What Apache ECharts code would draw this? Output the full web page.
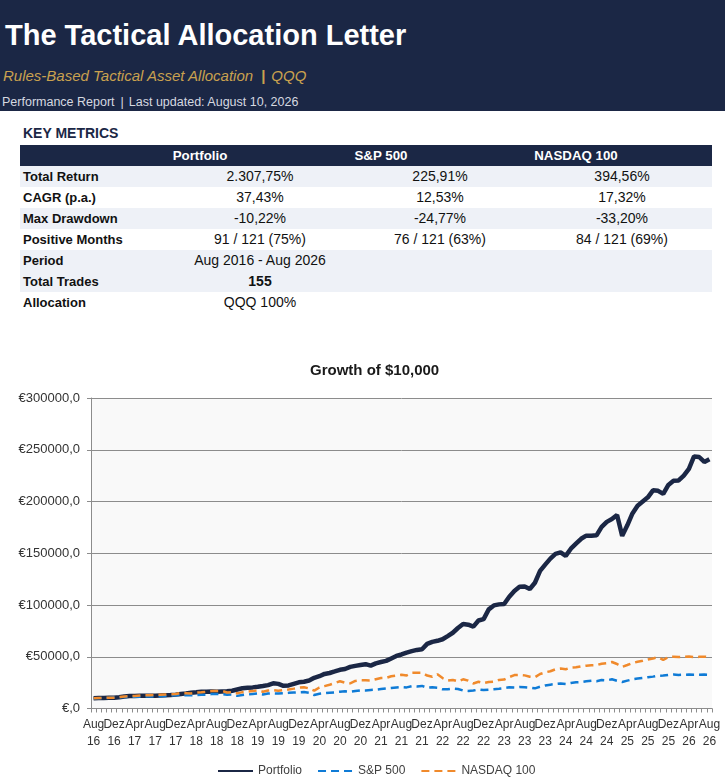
<!DOCTYPE html>
<html><head><meta charset="utf-8">
<script src="https://cdn.jsdelivr.net/npm/echarts@6/dist/echarts.min.js"></script>
<style>
html,body{margin:0;padding:0;background:#fff;width:725px;height:784px;overflow:hidden;font-family:"Liberation Sans",Arial,sans-serif;}
#hdr{position:absolute;left:0;top:0;width:725px;height:111px;background:#1b2745;}
.a{position:absolute;white-space:nowrap;}
#chart{position:absolute;left:0;top:340px;width:725px;height:444px;}
</style></head><body>
<div id="hdr"></div>
<div id="page"></div>
<div id="chart"></div>
<script>
// ---- data ----
const monthNames = ['Jan','Feb','Mär','Apr','Mai','Jun','Jul','Aug','Sep','Okt','Nov','Dez'];
const startYear = 2016, startMonth = 7, monthCount = 121;
const categories = [];
for (let i = 0; i < monthCount; i++) {
  const m = (startMonth + i) % 12, y = startYear + Math.floor((startMonth + i) / 12);
  categories.push(monthNames[m] + '\n' + String(y).slice(2));
}
const labelEvery = 4;
const portfolio = [10000,10200,10100,10300,10400,10800,11600,12000,12100,12200,
12300,12200,12400,12600,12800,13000,13400,14000,14600,15300,
15600,16100,16300,16400,16200,16400,16600,17200,18400,19600,
20000,20400,21000,21700,22600,24300,23800,21900,22300,23800,
25300,25800,27000,29600,31200,33400,34300,35800,37400,38200,
40200,41200,42000,42800,41400,43600,44900,46000,48400,50800,
52200,54000,55400,56600,57200,62400,64400,65400,66900,70000,
73200,77800,81700,81000,79100,85000,86400,95800,99600,100600,
101000,108000,113600,117600,117800,115500,121500,133000,139000,144800,
149400,150800,147500,154400,159200,164000,167000,166800,167300,175500,
180300,183000,187000,166800,177000,188500,196000,200000,204000,210800,
210300,207400,216000,220000,220300,225000,231500,243500,243000,238200,
240800];
const sp500 = [10000,10000,10100,10300,10600,10900,11100,11200,11300,11400,
11500,11500,11600,11900,12100,12400,12700,13200,12700,12700,
13000,13300,13400,13900,14000,14000,13200,13500,12200,13100,
13500,14000,14500,13600,14400,14600,14400,14700,15100,15400,
15700,15900,15200,13000,14200,14800,15300,15600,16200,16600,
16100,16900,17500,17500,17900,18200,18800,19300,19800,20300,
20800,20400,21500,21300,21800,20100,20500,20100,18500,18600,
19300,18900,17400,17000,17300,18400,17800,18200,18600,19100,
19700,20500,20300,20800,20600,20200,19500,21100,22300,23000,
23700,24200,23700,24700,25300,25600,26300,26800,26400,27600,
27200,28200,26800,25600,26900,28200,28900,29500,30200,30800,
31700,31800,32500,32800,32400,32600,32800,32500,32700,32800,
32600];
const nasdaq100 = [10000,10100,10200,10500,10500,11000,11600,11800,12100,12600,
12700,12900,13000,13400,13600,13800,14000,14900,14800,14600,
15300,15600,16200,16800,17000,17000,15500,15800,14600,15800,
16200,16800,17600,16200,17300,17800,17200,17800,18400,19200,
20100,20600,19400,17300,20300,21600,23000,24600,26300,24900,
24300,26600,27300,27200,27100,28300,29400,29600,31200,31900,
32600,31900,34400,34600,34600,31800,30600,33000,29400,27000,
27600,26200,28200,26900,24200,25800,24500,25600,26000,27600,
28000,30400,32300,32500,32000,30700,30200,33300,34900,36000,
37900,38600,37900,39500,39800,40800,41400,41700,41900,43300,
43800,44900,43000,40200,42000,43900,45200,46100,47400,48400,
49500,46900,49600,50100,49800,49900,50200,49600,49900,50100,
49500];
const yTicks = [0, 50000, 100000, 150000, 200000, 250000, 300000];

const metricLabels = ['Total Return','CAGR (p.a.)','Max Drawdown','Positive Months','Period','Total Trades','Allocation'];
const colHeaders = ['Portfolio','S&P 500','NASDAQ 100'];
const portfolioMetrics = ['2.307,75%','37,43%','-10,22%','91 / 121 (75%)','Aug 2016 - Aug 2026','155','QQQ 100%'];
const sp500Metrics = ['225,91%','12,53%','-24,77%','76 / 121 (63%)','','',''];
const nasdaqMetrics = ['394,56%','17,32%','-33,20%','84 / 121 (69%)','','',''];

// ---- page text ----
const page = document.getElementById('page');
function add(html, css) { const d = document.createElement('div'); d.className = 'a'; d.style.cssText = css; d.innerHTML = html; page.appendChild(d); return d; }
const F = '"Liberation Sans",Arial,sans-serif';
add('The Tactical Allocation Letter', 'left:5px;top:21px;font:bold 29px/29px '+F+';color:#fff;');
add('<i>Rules-Based Tactical Asset Allocation</i><span style="font-weight:bold;margin:0 6px 0 8px;">|</span><i>QQQ</i>', 'left:3px;top:68px;font:15px/15px '+F+';color:#c9a14f;');
add('Performance Report<span style="margin:0 5px 0 6px;">|</span>Last updated: August 10, 2026', 'left:2px;top:96px;font:12.5px/12.5px '+F+';color:#d6d9e0;');
add('KEY METRICS', 'left:23px;top:125px;font:bold 14px/16px '+F+';color:#1b2745;');
// table
add('', 'left:20px;top:145px;width:692px;height:21px;background:#1b2745;');
const rowTop = 166, rowH = 21;
const shaded = [true,false,true,false,true,true,false];
const hdrCenters = [200, 381, 576];
const valCenters = [260, 440, 622];
colHeaders.forEach((h, j) => add(h, 'left:'+(hdrCenters[j]-60)+'px;width:120px;text-align:center;top:145px;font:bold 13.3px/21px '+F+';color:#fff;'));
metricLabels.forEach((lab, r) => {
  const top = rowTop + r*rowH;
  if (shaded[r]) add('', 'left:20px;top:'+top+'px;width:692px;height:21px;background:#eef1f7;');
  add(lab, 'left:23px;top:'+top+'px;font:bold 13px/21px '+F+';color:#111;');
  [portfolioMetrics, sp500Metrics, nasdaqMetrics].forEach((col, j) => {
    const bold = (r === 5) ? 'bold ' : '';
    add(col[r], 'left:'+(valCenters[j]-80)+'px;width:160px;text-align:center;top:'+top+'px;font:'+bold+'14px/21px '+F+';color:#111;');
  });
});

// ---- chart ----
const chart = echarts.init(document.getElementById('chart'));
const axisGray = '#8c8c8c';
chart.setOption({
  animation: false,
  title: { text: 'Growth of $10,000', left: 305, top: 18, textStyle: { fontFamily: F, fontSize: 15, fontWeight: 'bold', color: '#1a1a1a' } },
  grid: { left: 91, right: 13, top: 58, bottom: 75.5, show: true, backgroundColor: '#f9f9f9', borderWidth: 0 },
  legend: {
    left: 212, top: 420, itemWidth: 35, itemHeight: 12, itemGap: 15,
    itemStyle: { opacity: 0, color: 'transparent', borderWidth: 0 },
    textStyle: { fontFamily: F, fontSize: 12, color: '#404040' },
    data: ['Portfolio', 'S&P 500', 'NASDAQ 100']
  },
  xAxis: {
    type: 'category', data: categories, boundaryGap: true,
    axisLine: { lineStyle: { color: axisGray } },
    axisTick: { show: true, interval: 0, length: 4, lineStyle: { color: axisGray } },
    axisLabel: { interval: 0, hideOverlap: false, fontFamily: F, fontSize: 12, lineHeight: 17, color: '#333', margin: 8,
      formatter: (v, i) => (i % labelEvery === 0 ? v : '') }
  },
  yAxis: {
    type: 'value', min: yTicks[0], max: yTicks[yTicks.length-1], interval: yTicks[1]-yTicks[0],
    axisLine: { show: true, lineStyle: { color: axisGray } },
    axisTick: { show: true, length: 4, lineStyle: { color: axisGray } },
    splitLine: { lineStyle: { color: axisGray, width: 1 } },
    axisLabel: { fontFamily: F, fontSize: 13, color: '#333', margin: 11,
      formatter: v => v === 0 ? '€,0' : '€' + v + ',0' }
  },
  series: [
    { name: 'Portfolio', type: 'line', data: portfolio, symbol: 'none', lineStyle: { color: '#1b2745', width: 4.5 }, itemStyle: { color: '#1b2745' } },
    { name: 'S&P 500', type: 'line', data: sp500, symbol: 'none', lineStyle: { color: '#0f7bd6', width: 2.5, type: [8, 5] }, itemStyle: { color: '#0f7bd6' } },
    { name: 'NASDAQ 100', type: 'line', data: nasdaq100, symbol: 'none', lineStyle: { color: '#f08a2c', width: 2.5, type: [8, 5] }, itemStyle: { color: '#f08a2c' } }
  ]
});
</script>
</body></html>
